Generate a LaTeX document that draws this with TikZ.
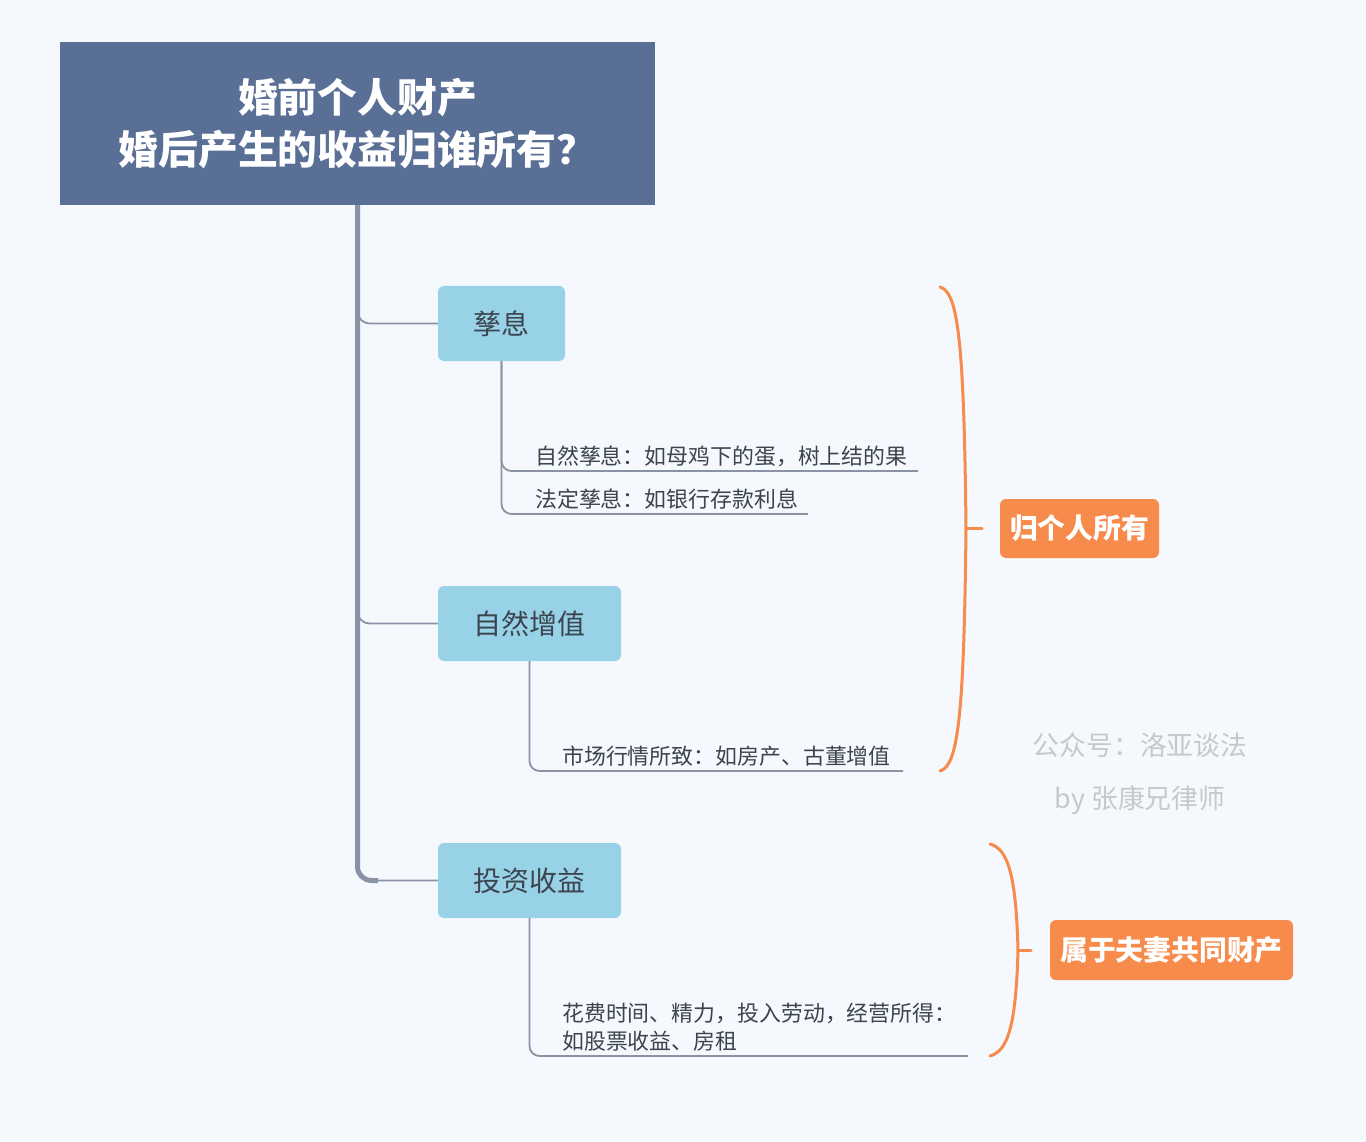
\documentclass[tikz,border=0pt]{standalone}
\usepackage{fontspec}
\setmainfont{Noto Sans CJK SC}
\definecolor{bgc}{HTML}{F5F9FD}
\definecolor{titlec}{HTML}{5A6F96}
\definecolor{trunkc}{HTML}{8A93A6}
\definecolor{boxc}{HTML}{97D2E7}
\definecolor{textc}{HTML}{3C4450}
\definecolor{orangec}{HTML}{F68B4C}
\definecolor{markc}{HTML}{C6C8CB}
\begin{document}
\begin{tikzpicture}[x=1pt,y=-1pt,
  titlebox/.style={fill=titlec,text=white,align=center,inner sep=0pt,font=\fontsize{39.8}{52}\selectfont\bfseries},
  topicbox/.style={fill=boxc,rounded corners=6pt,text=textc,inner sep=0pt,minimum height=75pt,font=\fontsize{28}{32}\selectfont},
  resultbox/.style={fill=orangec,rounded corners=6pt,text=white,inner sep=0pt,font=\fontsize{27.8}{32}\selectfont\bfseries},
  leaftext/.style={anchor=west,text=textc,inner sep=0pt,align=left,font=\fontsize{21.9}{28}\selectfont},
  leafline/.style={draw=trunkc,line width=1.8pt,rounded corners=10pt},
  branchline/.style={draw=trunkc,line width=1.8pt,rounded corners=12pt},
  trunkline/.style={draw=trunkc,line width=5pt,rounded corners=14pt},
  bracel/.style={draw=orangec,line width=3pt,line cap=round},
  marktext/.style={text=markc,inner sep=0pt,font=\fontsize{26.8}{30}\selectfont}]
\fill[bgc] (0,0) rectangle (1366,1142);
\useasboundingbox (0,0) rectangle (1366,1142);

% title
\node[titlebox,minimum width=595pt,minimum height=163pt] (title) at (357.5,123.5) {婚前个人财产\\婚后产生的收益归谁所有？};

% topics
\node[topicbox,minimum width=127pt] (zx) at (501.5,323.5) {孳息};
\node[topicbox,minimum width=183pt] (zz) at (529.5,623.5) {自然增值};
\node[topicbox,minimum width=183pt] (ty) at (529.5,880.5) {投资收益};

% branches
\draw[branchline] (title.south) |- (zx.west);
\draw[branchline] (title.south) |- (zz.west);
\draw[branchline] (title.south) |- (ty.west);
\coordinate (tk) at (378,880.5);
\draw[trunkline] (title.south) |- (tk);

% leaves
\coordinate (e1) at (918,471);
\coordinate (e2) at (808,514);
\coordinate (e3) at (903,771);
\coordinate (e4) at (968,1056);
\draw[leafline] (zx.south) |- (e1);
\draw[leafline] (zx.south) |- (e2);
\draw[leafline] (zz.south) |- (e3);
\draw[leafline] (ty.south) |- (e4);
\node[leaftext] (l1) at (535,456) {自然孳息：如母鸡下的蛋，树上结的果};
\node[leaftext] (l2) at (535,499) {法定孳息：如银行存款利息};
\node[leaftext] (l3) at (562,756) {市场行情所致：如房产、古董增值};
\node[leaftext] (l4) at (562,1027) {花费时间、精力，投入劳动，经营所得：\\如股票收益、房租};

% results
\node[resultbox,minimum width=159pt,minimum height=59pt] (r1) at (1079.5,528.5) {归个人所有};
\node[resultbox,minimum width=243pt,minimum height=60pt] (r2) at (1171.5,950) {属于夫妻共同财产};

% braces
\coordinate (b1t) at (940,287);
\coordinate (b1m) at (966,528.5);
\coordinate (b1b) at (940,771);
\coordinate (b1k) at (982,528.5);
\draw[bracel] (b1t) .. controls (958,292) and (964,340) .. (b1m) .. controls (964,717) and (958,766) .. (b1b);
\draw[bracel] (b1m) -- (b1k);
\coordinate (b2t) at (990,844);
\coordinate (b2m) at (1018,950);
\coordinate (b2b) at (990,1056);
\coordinate (b2k) at (1031,950);
\draw[bracel] (b2t) .. controls (1008,849) and (1016,875) .. (b2m) .. controls (1016,1025) and (1008,1051) .. (b2b);
\draw[bracel] (b2m) -- (b2k);

% watermark
\node[marktext] (m1) at (1140,745) {公众号：洛亚谈法};
\node[marktext] (m2) at (1140,800) {by 张康兄律师};
\end{tikzpicture}
\end{document}
